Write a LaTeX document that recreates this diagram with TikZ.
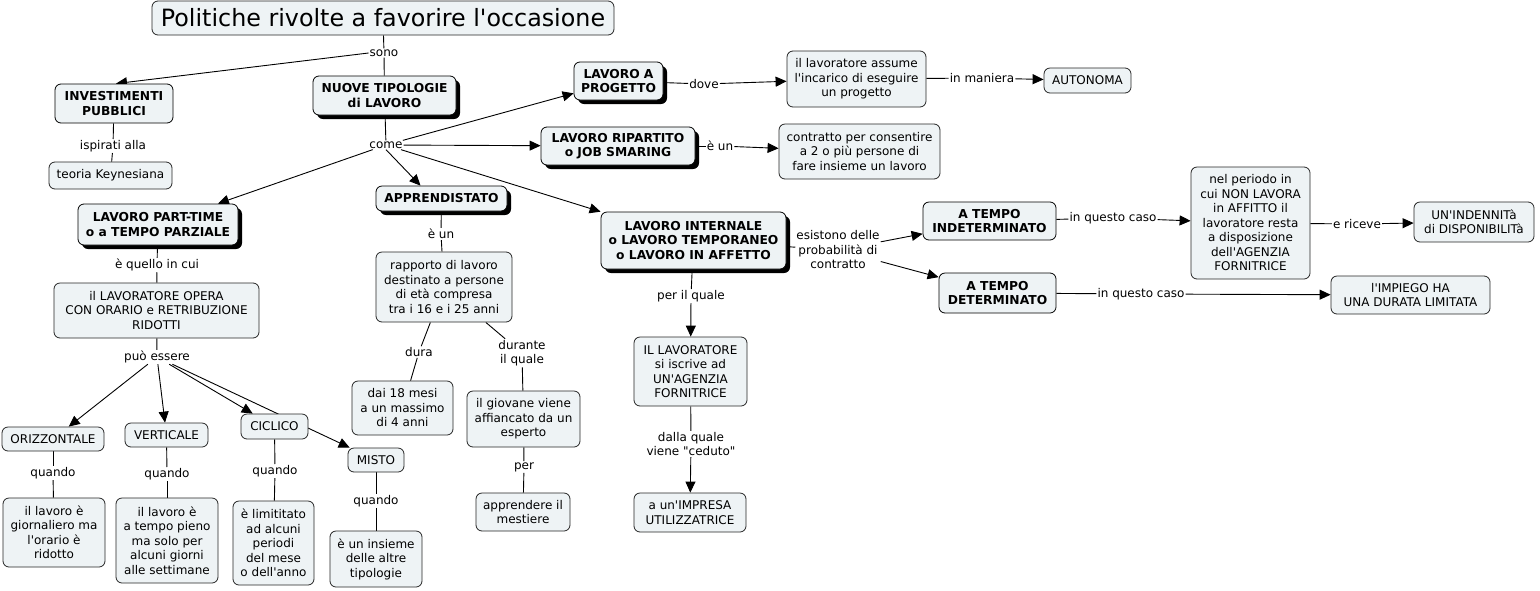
\documentclass[tikz,border=0pt]{standalone}
\usepackage{fontspec}
\setmainfont{DejaVu Sans}[Ligatures=TeXOff]
\usetikzlibrary{arrows.meta,calc}
\definecolor{cfill}{HTML}{EEF3F5}
\pgfdeclarelayer{back}
\pgfdeclarelayer{bg}
\pgfsetlayers{back,bg,main}
\tikzset{
 concept/.style={draw=black!85, fill=cfill, rounded corners=6pt, line width=0.8pt, align=center,
   font=\fontsize{12}{14.5}\selectfont, inner sep=1pt},
 bconcept/.style={concept, draw=black, font=\fontsize{12.3}{14.5}\selectfont\bfseries},
 shad/.style={preaction={fill=black, transform canvas={shift={(4pt,-4pt)}}}},
 lab/.style={inner sep=1pt, align=center, font=\fontsize{12}{14.5}\selectfont},
 link/.style={line width=0.9pt, draw=black},
 arr/.style={link, -{Triangle[length=11pt,width=10pt]}},
}
\begin{document}
\begin{tikzpicture}[x=1pt,y=-1pt]
\begin{pgfonlayer}{back}
\fill[white] (0,0) rectangle (1540,590);
\end{pgfonlayer}
\useasboundingbox (0,0) rectangle (1540,590);
% title
\node[concept, font=\fontsize{23.8}{26}\selectfont, minimum width=462, minimum height=34] (title) at (383,18) {Politiche rivolte a favorire l'occasione};
\node[lab] (sono) at (384,53) {sono};
\node[bconcept, minimum width=118, minimum height=39] (inv) at (114,103.5) {INVESTIMENTI\\PUBBLICI};
\node[lab] (ispirati) at (113,146) {ispirati alla};
\node[concept, minimum width=123, minimum height=27] (teoria) at (110.5,175.5) {teoria Keynesiana};
\node[bconcept, shad, minimum width=143, minimum height=39] (nuove) at (384.5,95.5) {NUOVE TIPOLOGIE\\di LAVORO};
\node[lab] (come) at (386,145) {come};
% part-time branch
\node[bconcept, shad, minimum width=160, minimum height=41] (part) at (158,224.5) {LAVORO PART-TIME\\o a TEMPO PARZIALE};
\node[lab] (quello) at (157,265) {è quello in cui};
\node[concept, minimum width=205, minimum height=55] (opera) at (156.5,310.5) {il LAVORATORE OPERA\\CON ORARIO e RETRIBUZIONE\\RIDOTTI};
\node[lab] (puo) at (157,357) {può essere};
\node[concept, minimum width=102, minimum height=24] (oriz) at (53,439) {ORIZZONTALE};
\node[concept, minimum width=83, minimum height=24] (vert) at (166.5,435) {VERTICALE};
\node[concept, minimum width=67, minimum height=25] (cicl) at (274.5,426.5) {CICLICO};
\node[concept, minimum width=56, minimum height=24] (misto) at (376,460) {MISTO};
\node[lab] (q1) at (53,473) {quando};
\node[lab] (q2) at (167,474) {quando};
\node[lab] (q3) at (275,471) {quando};
\node[lab] (q4) at (376,501) {quando};
\node[concept, minimum width=102, minimum height=69] (b1) at (54,532.5) {il lavoro è\\giornaliero ma\\l'orario è\\ridotto};
\node[concept, minimum width=102, minimum height=85] (b2) at (167,540.5) {il lavoro è\\a tempo pieno\\ma solo per\\alcuni giorni\\alle settimane};
\node[concept, minimum width=81, minimum height=84] (b3) at (273.5,543) {è limititato\\ad alcuni\\periodi\\del mese\\o dell'anno};
\node[concept, minimum width=92, minimum height=56] (b4) at (376,559) {è un insieme\\delle altre\\tipologie};
% apprendistato
\node[bconcept, shad, minimum width=131, minimum height=25] (appr) at (441.5,198.5) {APPRENDISTATO};
\node[lab] (eun1) at (441,234) {è un};
\node[concept, minimum width=136, minimum height=70] (rapp) at (444,287) {rapporto di lavoro\\destinato a persone\\di età compresa\\tra i 16 e i 25 anni};
\node[lab] (dura) at (419,352) {dura};
\node[concept, minimum width=101, minimum height=54] (dai) at (402.5,408) {dai 18 mesi\\a un massimo\\di 4 anni};
\node[lab] (durante) at (522,353) {durante\\il quale};
\node[concept, minimum width=113, minimum height=56] (giov) at (523.5,419) {il giovane viene\\affiancato da un\\esperto};
\node[lab] (per) at (524,467) {per};
\node[concept, minimum width=94, minimum height=38] (appre) at (523,512) {apprendere il\\mestiere};
% progetto
\node[bconcept, shad, minimum width=89, minimum height=38] (prog) at (618.5,81) {LAVORO A\\PROGETTO};
\node[lab] (dove) at (704,84) {dove};
\node[concept, minimum width=139, minimum height=56] (assume) at (856.5,79) {il lavoratore assume\\l'incarico di eseguire\\un progetto};
\node[lab] (maniera) at (982,78) {in maniera};
\node[concept, minimum width=87, minimum height=25] (auto) at (1087.5,80.5) {AUTONOMA};
% ripartito
\node[bconcept, shad, minimum width=154, minimum height=38] (rip) at (618,146) {LAVORO RIPARTITO\\o JOB SMARING};
\node[lab] (eun2) at (720,146) {è un};
\node[concept, minimum width=161, minimum height=55] (contr) at (859.5,151.5) {contratto per consentire\\a 2 o più persone di\\fare insieme un lavoro};
% internale
\node[bconcept, shad, minimum width=185, minimum height=57] (intern) at (693.5,240.5) {LAVORO INTERNALE\\o LAVORO TEMPORANEO\\o LAVORO IN AFFETTO};
\node[lab] (esist) at (838,250) {esistono delle\\probabilità di\\contratto};
\node[bconcept, minimum width=133, minimum height=38] (indet) at (989.5,221) {A TEMPO\\INDETERMINATO};
\node[bconcept, minimum width=117, minimum height=40] (det) at (997.5,293) {A TEMPO\\DETERMINATO};
\node[lab] (caso1) at (1113,218) {in questo caso};
\node[concept, minimum width=119, minimum height=112] (periodo) at (1250.5,223) {nel periodo in\\cui NON LAVORA\\in AFFITTO il\\lavoratore resta\\a disposizione\\dell'AGENZIA\\FORNITRICE};
\node[lab] (riceve) at (1357,224) {e riceve};
\node[concept, minimum width=120, minimum height=40] (indenn) at (1474,222) {UN'INDENNITà\\di DISPONIBILITà};
\node[lab] (caso2) at (1141,294) {in questo caso};
\node[concept, minimum width=159, minimum height=38] (impiego) at (1410.5,295) {l'IMPIEGO HA\\UNA DURATA LIMITATA};
\node[lab] (perquale) at (691,296) {per il quale};
\node[concept, minimum width=113, minimum height=69] (iscr) at (690.5,371.5) {IL LAVORATORE\\si iscrive ad\\UN'AGENZIA\\FORNITRICE};
\node[lab] (dalla) at (691,444) {dalla quale\\viene "ceduto"};
\node[concept, minimum width=112, minimum height=39] (impresa) at (690,512.5) {a un'IMPRESA\\UTILIZZATRICE};

\begin{pgfonlayer}{bg}
\draw[link] (title) -- (sono);
\draw[link] (sono) -- (nuove);
\draw[arr] (sono.west) -- ($(inv.north)+(2,0)$);
\draw[link] (inv) -- (ispirati);
\draw[link] (ispirati) -- (teoria);
\draw[link] (nuove) -- (come);
\draw[arr] (come) -- (part);
\draw[arr] (come.south) -- ($(appr.north)+(-21,0)$);
\draw[arr] (come) -- (prog);
\draw[arr] (come) -- (rip);
\draw[arr] (come) -- (intern);
\draw[link] (part) -- (quello);
\draw[link] (quello) -- (opera);
\draw[link] (opera) -- (puo);
\draw[arr] (puo) -- (oriz);
\draw[arr] (puo) -- (vert);
\draw[arr] (puo) -- (cicl);
\draw[arr] (puo) -- (misto);
\draw[link] (oriz) -- (q1);
\draw[link] (q1) -- (b1);
\draw[link] (vert) -- (q2);
\draw[link] (q2) -- (b2);
\draw[link] (cicl) -- (q3);
\draw[link] (q3) -- (b3);
\draw[link] (misto) -- (q4);
\draw[link] (q4) -- (b4);
\draw[link] (appr) -- (eun1);
\draw[link] (eun1) -- (rapp);
\draw[link] (rapp) -- (dura);
\draw[link] (dura) -- (dai);
\draw[link] (rapp) -- (durante);
\draw[link] (durante) -- (giov);
\draw[link] (giov) -- (per);
\draw[link] (per) -- (appre);
\draw[link] (prog) -- (dove);
\draw[arr] (dove) -- (assume);
\draw[link] (assume) -- (maniera);
\draw[arr] (maniera) -- (auto);
\draw[link] (rip) -- (eun2);
\draw[arr] (eun2) -- (contr);
\draw[link] (intern) -- (esist);
\draw[arr] (esist) -- (indet);
\draw[arr] (esist) -- (det);
\draw[link] (indet) -- (caso1);
\draw[arr] (caso1) -- (periodo);
\draw[link] (periodo) -- (riceve);
\draw[arr] (riceve) -- (indenn);
\draw[link] (det) -- (caso2);
\draw[arr] (caso2) -- (impiego);
\draw[link] (intern) -- (perquale);
\draw[arr] (perquale) -- (iscr);
\draw[link] (iscr) -- (dalla);
\draw[arr] (dalla) -- (impresa);
\end{pgfonlayer}
\end{tikzpicture}
\end{document}
